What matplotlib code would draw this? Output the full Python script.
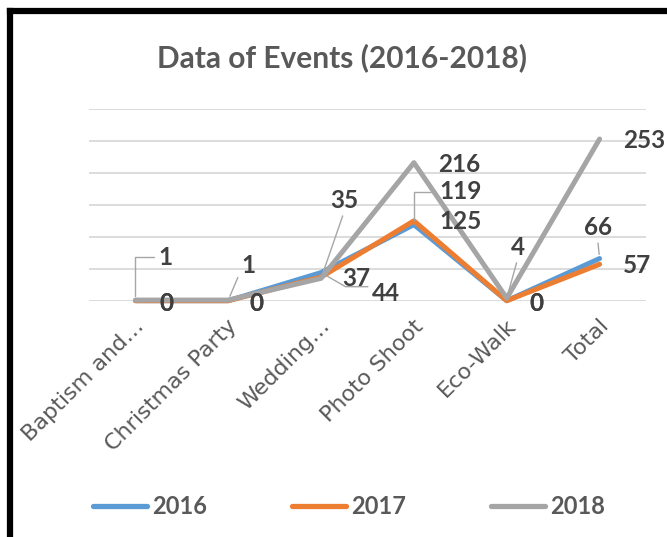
import matplotlib
matplotlib.use("Agg")
import matplotlib.pyplot as plt
from matplotlib.lines import Line2D
from matplotlib.transforms import ScaledTranslation

# ---- data ----
categories = ["Baptism and…", "Christmas Party", "Wedding…", "Photo Shoot", "Eco-Walk", "Total"]
series_names = ["2016", "2017", "2018"]
values_2016 = [0, 0, 44, 119, 0, 66]
values_2017 = [0, 0, 37, 125, 0, 57]
values_2018 = [1, 1, 35, 216, 4, 253]
y_ticks = [0, 50, 100, 150, 200, 250, 300]
title = "Data of Events (2016-2018)"

# ---- style ----
colors = ["#5B9BD5", "#ED7D31", "#A5A5A5"]
W, H = 667, 537
fig = plt.figure(figsize=(W / 100, H / 100), dpi=100)
fig.patch.set_facecolor("white")

ax = fig.add_axes([89 / W, 1 - 300.7 / H, (646 - 89) / W, (300.7 - 109) / H])
ax.set_xlim(-0.5, len(categories) - 0.5)
ax.set_ylim(y_ticks[0], y_ticks[-1])
for s in ax.spines.values():
    s.set_visible(False)
ax.set_yticks(y_ticks)
ax.set_yticklabels([])
ax.tick_params(axis="y", length=0)
ax.grid(axis="y", color="#D9D9D9", linewidth=1.3)
ax.set_axisbelow(True)

ax.set_xticks(range(len(categories)))
ax.set_xticklabels(categories, rotation=45, ha="right", va="center",
                   rotation_mode="anchor", fontsize=16, color="#595959",
                   family="DejaVu Sans")
ax.tick_params(axis="x", length=0, pad=16)
shift = ScaledTranslation(6 / 100, 0, fig.dpi_scale_trans)
for lab in ax.get_xticklabels():
    lab.set_transform(lab.get_transform() + shift)

all_vals = [values_2016, values_2017, values_2018]
for vals, c, name in zip(all_vals, colors, series_names):
    ax.plot(range(len(vals)), vals, color=c, linewidth=3.6, label=name,
            solid_capstyle="round", clip_on=False)

# data label placement (pixel offsets from each point), and leader styles
label_offsets = {
    0: [(31, -3), (28, -3), (65, -21), (47, 33), (30, -3), (-2, 31)],
    1: [(31, -3), (28, -3), (35, -1), (47, -1), (30, -3), (37, -1)],
    2: [(30, 43), (20, 35), (23, 78), (45, -2), (11, 51), (45, -1)],
}
leaders = {
    (2, 0): dict(connectionstyle="angle,angleA=0,angleB=90,rad=0"),
    (0, 3): dict(connectionstyle="angle,angleA=0,angleB=90,rad=0"),
    (0, 2): dict(connectionstyle="angle,angleA=0,angleB=-30,rad=0", relpos=(0, 0.8)),
    (2, 1): dict(connectionstyle="arc3", relpos=(0, 0.3)),
    (2, 2): dict(connectionstyle="arc3", relpos=(0.5, 0)),
    (2, 4): dict(connectionstyle="arc3", relpos=(0.5, 0)),
    (0, 5): dict(connectionstyle="arc3", relpos=(0.5, 0)),
}
for si, vals in enumerate(all_vals):
    for i, v in enumerate(vals):
        dx, dy = label_offsets[si][i]
        kw = {}
        if (si, i) in leaders:
            ap = dict(arrowstyle="-", color="#A6A6A6", lw=1.0, shrinkA=1, shrinkB=3)
            ap.update(leaders[(si, i)])
            kw["arrowprops"] = ap
        ax.annotate(str(v), xy=(i, v), xytext=(dx, dy), textcoords="offset pixels",
                    ha="center", va="center", fontsize=17.5, fontweight="bold",
                    family="Lato", color="#404040", annotation_clip=False, **kw)

fig.text(342 / W, 1 - 58 / H, title, ha="center", va="center", fontsize=21.5,
         fontweight="bold", family="Lato", color="#595959")

handles = [Line2D([0], [0], color=c, lw=3.8, solid_capstyle="round") for c in colors]
leg = fig.legend(handles, series_names, loc="center", bbox_to_anchor=(349 / W, 1 - 507 / H),
                 ncol=3, frameon=False, handlelength=2.3, handletextpad=0.2,
                 columnspacing=3.6, prop=dict(family="Lato", weight="bold", size=17))
for t in leg.get_texts():
    t.set_color("#595959")

# chart border (left and top visible)
fig.add_artist(Line2D([10 / W, 10 / W], [0, 1 - 11 / H], transform=fig.transFigure,
                      color="black", linewidth=4.5, solid_capstyle="projecting"))
fig.add_artist(Line2D([10 / W, 1], [1 - 11 / H, 1 - 11 / H], transform=fig.transFigure,
                      color="black", linewidth=4.5, solid_capstyle="projecting"))

fig.savefig("out.png", dpi=100)
